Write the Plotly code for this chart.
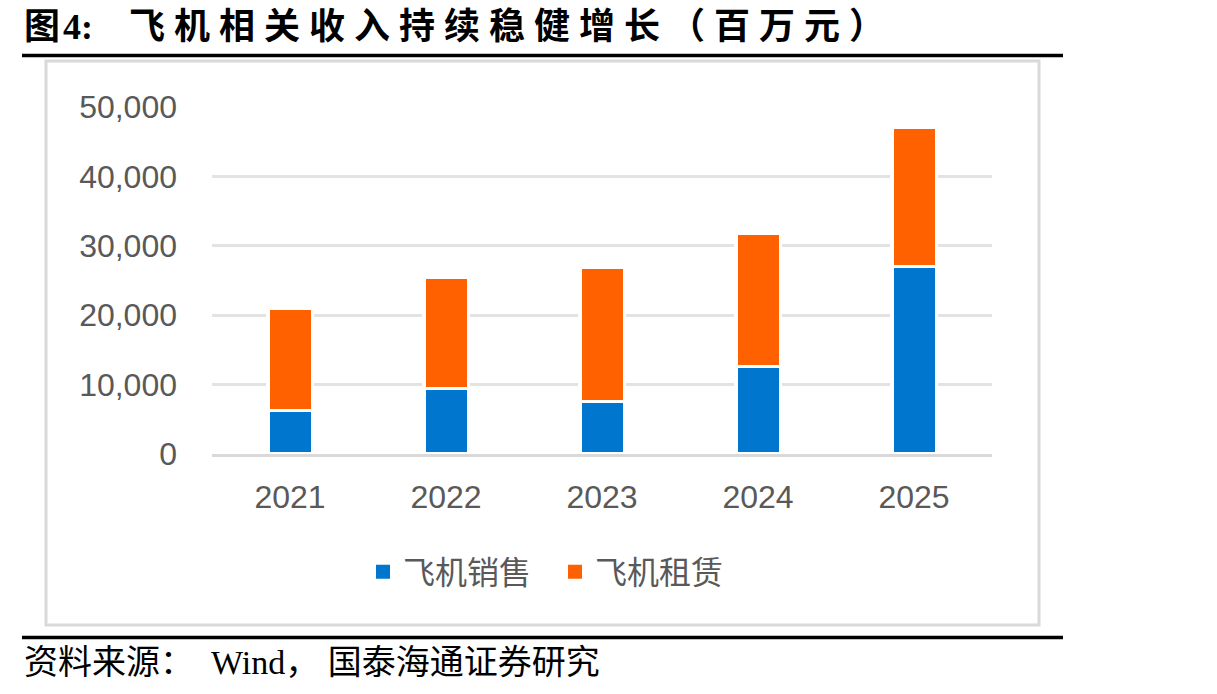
import plotly.graph_objects as go

# ---- data ----
years = ["2021", "2022", "2023", "2024", "2025"]
sales = [6300, 9400, 7600, 12600, 27000]      # 飞机销售
leasing = [14700, 16100, 19300, 19200, 20100]  # 飞机租赁
series_names = ["飞机销售", "飞机租赁"]
y_ticks = [0, 10000, 20000, 30000, 40000, 50000]

title_text = "图\u200a4:\u2003飞\u2005机\u2005相\u2005关\u2005收\u2005入\u2005持\u2005续\u2005稳\u2005健\u2005增\u2005长\u2005（\u2005百\u2005万\u2005元\u2005）"
source_text = "资料来源：\u2002Wind，\u2005国泰海通证券研究"

# ---- layout geometry (pixels) ----
W, H = 1217, 694
L, R, T, B = 212, 225, 107, 240
PW = W - L - R
PH = H - T - B


def xp(px):
    return (px - L) / PW


def yp(py):
    return (H - B - py) / PH


BLUE = "#0076CE"
ORANGE = "#FF6000"
GREY_TXT = "#595959"
colors = [BLUE, ORANGE]

fig = go.Figure()
for vals, name, col in zip([sales, leasing], series_names, colors):
    fig.add_trace(go.Bar(x=years, y=vals, name=name, showlegend=False,
                         marker=dict(color=col, line=dict(color="white", width=3.3))))
# legend entries (square markers)
for name, col in zip(series_names, colors):
    fig.add_trace(go.Scatter(x=[None], y=[None], mode="markers", name=name,
                             marker=dict(symbol="square", size=14, color=col)))

fig.update_layout(
    width=W, height=H,
    barmode="stack", bargap=0.716,
    margin=dict(l=L, r=R, t=T, b=B, pad=0),
    paper_bgcolor="white", plot_bgcolor="white",
    font=dict(family="Liberation Sans, Arial, Noto Sans CJK SC", size=32, color=GREY_TXT),
    showlegend=True,
    legend=dict(orientation="h", x=xp(555), xanchor="center", y=yp(572), yanchor="middle",
                font=dict(family="Noto Sans CJK SC", size=32, color=GREY_TXT),
                entrywidth=147, entrywidthmode="pixels",
                traceorder="normal", bgcolor="rgba(0,0,0,0)"),
    xaxis=dict(showgrid=False, showline=True, linecolor="#D9D9D9", linewidth=3,
               layer="above traces", ticks="", ticklabelstandoff=13,
               tickfont=dict(size=32, color=GREY_TXT)),
    yaxis=dict(range=[0, 50000], tickvals=y_ticks, tickformat=",", showgrid=True,
               gridcolor="#E3E3E3", gridwidth=3, zeroline=False, showline=False,
               ticks="", ticklabelstandoff=34, tickfont=dict(size=32, color=GREY_TXT)),
)

# frame around chart
fig.add_shape(type="rect", xref="paper", yref="paper",
              x0=xp(46), x1=xp(1039), y0=yp(625), y1=yp(61),
              line=dict(color="#D9D9D9", width=3), fillcolor="rgba(0,0,0,0)", layer="below")
# black rules
fig.add_shape(type="line", xref="paper", yref="paper",
              x0=xp(22), x1=xp(1063), y0=yp(55.5), y1=yp(55.5),
              line=dict(color="black", width=3.5))
fig.add_shape(type="line", xref="paper", yref="paper",
              x0=xp(22), x1=xp(1063), y0=yp(637.5), y1=yp(637.5),
              line=dict(color="black", width=3.5))

fig.add_annotation(text="<b>" + title_text + "</b>", xref="paper", yref="paper",
                   x=xp(22), y=yp(27), xanchor="left", yanchor="middle", showarrow=False,
                   font=dict(family="Liberation Serif, Noto Sans CJK SC", size=36, color="black"))
fig.add_annotation(text=source_text, xref="paper", yref="paper",
                   x=xp(22), y=yp(662), xanchor="left", yanchor="middle", showarrow=False,
                   font=dict(family="Liberation Serif, Noto Sans CJK SC", size=34, color="black"))

fig.write_html("out.html")
